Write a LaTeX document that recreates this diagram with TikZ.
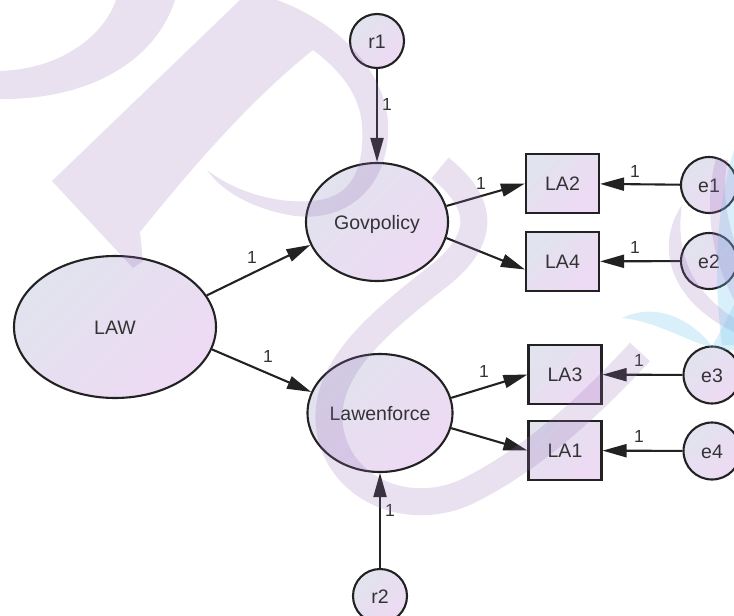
\documentclass[tikz,border=0pt]{standalone}
\usepackage{fontspec}
\setmainfont{Liberation Sans}
\usetikzlibrary{shapes.geometric,arrows.meta}

\definecolor{edgec}{HTML}{222222}
\definecolor{txtc}{HTML}{333333}
\definecolor{fillA}{HTML}{E1E3EE}
\definecolor{fillB}{HTML}{EEDAF4}
\definecolor{wmpurple}{RGB}{150,110,185}
\definecolor{wmcyan}{RGB}{110,195,235}

\begin{document}
\begin{tikzpicture}[x=1pt,y=-1pt,
  every node/.style={inner sep=0pt, text=txtc,
    font=\fontsize{19.5}{21}\selectfont, text height=14pt, text depth=0pt},
  shadedfill/.style={top color=fillA, bottom color=fillB, shading angle=45,
    draw=edgec, line width=2.1pt},
  latent/.style={shadedfill, ellipse},
  resid/.style={shadedfill, circle, minimum size=54pt},
  obs/.style={shadedfill, rectangle, minimum width=73pt, minimum height=59pt},
  regpath/.style={draw=edgec, line width=2.1pt, -{Triangle[length=24pt,width=13pt]}},
  wt/.style={font=\fontsize{17.5}{19}\selectfont, text height=12.5pt, text depth=0pt},
  wmA/.style={fill=wmpurple, fill opacity=0.21},
  wmB/.style={fill=wmcyan, fill opacity=0.26},
  wmS/.style={draw=wmpurple, draw opacity=0.21, line width=27pt},
]
\clip (0,0) rectangle (734,616);

% latent variables
\node[latent, minimum width=202pt, minimum height=142pt] (law) at (115,327) {LAW};
\node[latent, minimum width=142pt, minimum height=118pt] (gov) at (377,222) {Govpolicy};
\node[latent, minimum width=145pt, minimum height=118pt] (enf) at (380,413) {Lawenforce};

% disturbances
\node[resid] (r1) at (377,41) {r1};
\node[resid] (r2) at (380,596) {r2};

% observed indicators
\node[obs] (la2) at (562.5,183.5) {LA2};
\node[obs] (la4) at (562.5,261.5) {LA4};
\node[obs] (la3) at (565,374.5) {LA3};
\node[obs] (la1) at (565,450.5) {LA1};

% measurement errors
\node[resid, minimum size=56pt] (e1) at (709,185) {e1};
\node[resid, minimum size=56pt] (e2) at (709,261) {e2};
\node[resid, minimum size=57pt] (e3) at (712,375) {e3};
\node[resid, minimum size=57pt] (e4) at (712,451) {e4};

% structural paths
\draw[regpath] (r1) -- (gov);
\draw[regpath] (r2) -- (enf);
\draw[regpath] (law.19) -- (gov.199);
\draw[regpath] (law.-13) -- (enf.163);

% loadings
\draw[regpath] (gov.13) -- (la2.west);
\draw[regpath] (gov.-13) -- (la4.192);
\draw[regpath] (enf.12) -- (la3.west);
\draw[regpath] (enf.-12) -- (la1.west);

% error paths
\draw[regpath] (e1) -- (la2);
\draw[regpath] (e2) -- (la4);
\draw[regpath] (e3) -- (la3);
\draw[regpath] (e4) -- (la1);

% fixed weights
\node[wt] (w1) at (387,104) {1};
\node[wt] (w2) at (390,510) {1};
\node[wt] (w3) at (252,257) {1};
\node[wt] (w4) at (268,356) {1};
\node[wt] (w5) at (481,183) {1};
\node[wt] (w6) at (635,171) {1};
\node[wt] (w7) at (635,247) {1};
\node[wt] (w8) at (484,371) {1};
\node[wt] (w9) at (639,360) {1};
\node[wt] (w10) at (639,436) {1};

% translucent background lettering
\fill[wmA] (0,71) .. controls (62,69) and (104,35) .. (116,0) -- (175,0)
  .. controls (155,62) and (88,100) .. (0,99) -- cycle;
\fill[wmA] (240,0) -- (52,181) -- (133,268) -- (143,261) -- (140,232)
  .. controls (190,170) and (250,100) .. (313,50)
  .. controls (340,70) and (360,95) .. (362,125)
  .. controls (365,170) and (350,195) .. (320,200)
  .. controls (280,206) and (235,192) .. (207,170)
  .. controls (222,192) and (255,210) .. (295,216)
  .. controls (345,222) and (385,190) .. (388,135)
  .. controls (392,80) and (345,25) .. (277,0) -- cycle;
\draw[wmS] (440,168) .. controls (480,200) and (490,235) .. (440,275)
  .. controls (380,322) and (320,370) .. (330,430)
  .. controls (340,490) and (410,520) .. (470,490)
  .. controls (540,455) and (600,395) .. (640,352);
\fill[wmA] (682,205) .. controls (655,245) and (668,300) .. (734,332) -- (734,318)
  .. controls (690,290) and (675,250) .. (682,205) -- cycle;
\fill[wmA] (716,158) .. controls (705,200) and (708,250) .. (734,300) -- (734,240)
  .. controls (725,210) and (722,185) .. (728,160) -- cycle;
\fill[wmB] (622,318) .. controls (655,302) and (690,318) .. (712,346)
  .. controls (722,330) and (728,315) .. (734,305) -- (734,350)
  .. controls (700,352) and (665,322) .. (622,318) -- cycle;
\fill[wmB] (734,150) .. controls (718,200) and (712,270) .. (722,345) -- (734,345) -- cycle;
\end{tikzpicture}
\end{document}
